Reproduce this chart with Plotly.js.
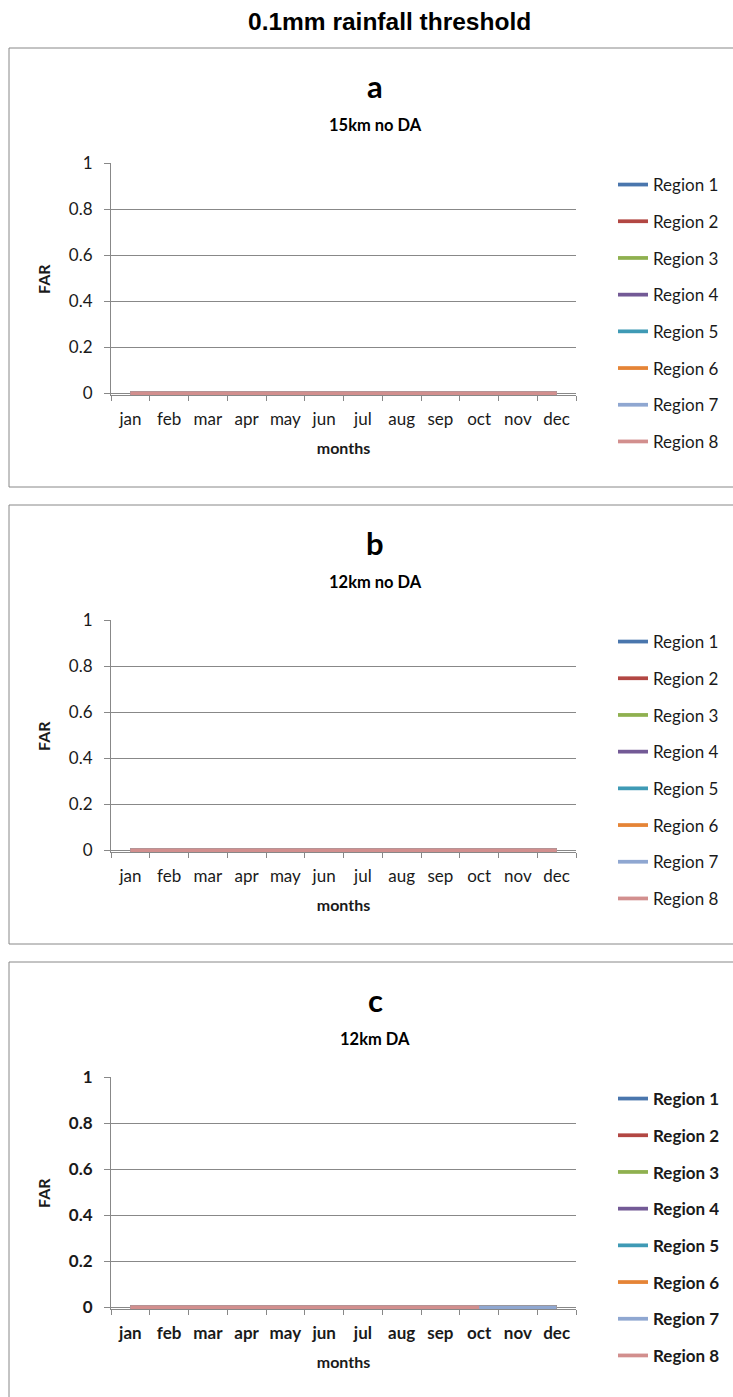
<!DOCTYPE html>
<html>
<head>
<meta charset="utf-8">
<script src="https://cdn.plot.ly/plotly-3.0.1.min.js"></script>
<style>
  html, body { margin: 0; padding: 0; background: #ffffff; }
  #chart { width: 733px; height: 1397px; }
</style>
</head>
<body>
<div id="chart"></div>
<script>
// Monthly false alarm ratio (FAR) per region, 0.1mm rainfall threshold
const months = ['jan', 'feb', 'mar', 'apr', 'may', 'jun', 'jul', 'aug', 'sep', 'oct', 'nov', 'dec'];
const regionNames = ['Region 1', 'Region 2', 'Region 3', 'Region 4', 'Region 5', 'Region 6', 'Region 7', 'Region 8'];
const panelLetters = ['a', 'b', 'c'];
const panelNames = ['15km no DA', '12km no DA', '12km DA'];
const yTicks = [0, 0.2, 0.4, 0.6, 0.8, 1];

// FAR, one row per region (Region 1 .. Region 8)
const far15kmNoDA = [
  [0, 0, 0, 0, 0, 0, 0, 0, 0, 0, 0, 0],
  [0, 0, 0, 0, 0, 0, 0, 0, 0, 0, 0, 0],
  [0, 0, 0, 0, 0, 0, 0, 0, 0, 0, 0, 0],
  [0, 0, 0, 0, 0, 0, 0, 0, 0, 0, 0, 0],
  [0, 0, 0, 0, 0, 0, 0, 0, 0, 0, 0, 0],
  [0, 0, 0, 0, 0, 0, 0, 0, 0, 0, 0, 0],
  [0, 0, 0, 0, 0, 0, 0, 0, 0, 0, 0, 0],
  [0, 0, 0, 0, 0, 0, 0, 0, 0, 0, 0, 0]
];
const far12kmNoDA = [
  [0, 0, 0, 0, 0, 0, 0, 0, 0, 0, 0, 0],
  [0, 0, 0, 0, 0, 0, 0, 0, 0, 0, 0, 0],
  [0, 0, 0, 0, 0, 0, 0, 0, 0, 0, 0, 0],
  [0, 0, 0, 0, 0, 0, 0, 0, 0, 0, 0, 0],
  [0, 0, 0, 0, 0, 0, 0, 0, 0, 0, 0, 0],
  [0, 0, 0, 0, 0, 0, 0, 0, 0, 0, 0, 0],
  [0, 0, 0, 0, 0, 0, 0, 0, 0, 0, 0, 0],
  [0, 0, 0, 0, 0, 0, 0, 0, 0, 0, 0, 0]
];
const far12kmDA = [
  [0, 0, 0, 0, 0, 0, 0, 0, 0, 0, 0, 0],
  [0, 0, 0, 0, 0, 0, 0, 0, 0, 0, 0, 0],
  [0, 0, 0, 0, 0, 0, 0, 0, 0, 0, 0, 0],
  [0, 0, 0, 0, 0, 0, 0, 0, 0, 0, 0, 0],
  [0, 0, 0, 0, 0, 0, 0, 0, 0, 0, 0, 0],
  [0, 0, 0, 0, 0, 0, 0, 0, 0, 0, 0, 0],
  [0, 0, 0, 0, 0, 0, 0, 0, 0, 0, 0, 0],
  [0, 0, 0, 0, 0, 0, 0, 0, 0, 0, null, null]
];
const panelData = [far15kmNoDA, far12kmNoDA, far12kmDA];

// ---- styling ----
const regionColors = ['#4A76AD', '#B24743', '#8FB04F', '#735A96', '#3F9AB5', '#E58436', '#8FA7D1', '#D28F8E'];
const W = 733, H = 1397;
const PANEL_STEP = 457;          // vertical distance between stacked panels (px)
const axisGray = '#888888';
const textColor = '#1a1a1a';
const FONT = 'Lato, "Open Sans", sans-serif';
const boldPanels = [false, false, true];
const Y_MIN = -0.0075;           // a hair below zero so the zero-valued lines are not cut in half

const px = v => v / W;           // horizontal pixel -> paper
const py = v => 1 - v / H;       // vertical pixel -> paper

const traces = [];
const layout = {
  width: W, height: H,
  margin: { l: 0, r: 0, t: 0, b: 0 },
  paper_bgcolor: '#ffffff', plot_bgcolor: '#ffffff',
  showlegend: true,
  font: { family: FONT, color: textColor },
  shapes: [], annotations: []
};

layout.annotations.push({
  text: '0.1mm rainfall threshold', xref: 'paper', yref: 'paper',
  x: px(389), y: py(21), xanchor: 'center', yanchor: 'middle', showarrow: false,
  font: { family: '"Liberation Sans", Arial, sans-serif', size: 24.5, weight: 'bold', color: '#000' }
});

panelData.forEach((rows, p) => {
  const off = p * PANEL_STEP;
  const sfx = p === 0 ? '' : String(p + 1);
  const bold = boldPanels[p] ? 'bold' : 'normal';
  const tickFont = { family: FONT, size: 17, color: textColor, weight: bold };
  const titleFont = { family: FONT, size: 16, color: textColor, weight: 'bold' };

  // y=1 at 163.3px and y=0 at 393.3px within the panel
  const pxPerUnit = 230;
  const plotTop = 163.3 + off;
  const plotBottom = 393.3 + off - Y_MIN * pxPerUnit;

  // panel frame
  layout.shapes.push({
    type: 'rect', xref: 'paper', yref: 'paper', layer: 'below',
    x0: px(9), x1: px(745), y0: py(48 + off), y1: py(487 + off + (p === 2 ? 20 : 0)),
    line: { color: axisGray, width: 1 }, fillcolor: 'rgba(0,0,0,0)'
  });

  // panel letter and run name
  layout.annotations.push({
    text: panelLetters[p], xref: 'paper', yref: 'paper',
    x: px(375), y: py(86 + off), xanchor: 'center', yanchor: 'middle', showarrow: false,
    font: { family: FONT, size: 31, weight: 'bold', color: '#000' }
  });
  layout.annotations.push({
    text: panelNames[p], xref: 'paper', yref: 'paper',
    x: px(375), y: py(125 + off), xanchor: 'center', yanchor: 'middle', showarrow: false,
    font: { family: FONT, size: 16.5, weight: 'bold', color: '#000' }
  });

  layout['xaxis' + sfx] = {
    domain: [px(111), px(576)], anchor: 'y' + sfx,
    type: 'category', categoryorder: 'array', categoryarray: months,
    range: [-0.5, 11.5], fixedrange: true,
    showline: true, linecolor: axisGray, linewidth: 1, layer: 'below traces',
    ticks: 'outside', tickson: 'boundaries', ticklen: 5, tickcolor: axisGray, tickwidth: 1,
    showgrid: false, zeroline: false, tickangle: 0,
    tickfont: tickFont, ticklabelstandoff: 9,
    title: { text: 'months', font: titleFont, standoff: 14 }
  };
  layout['yaxis' + sfx] = {
    domain: [py(plotBottom), py(plotTop)], anchor: 'x' + sfx,
    range: [Y_MIN, 1], tickvals: yTicks, ticktext: yTicks.map(String), fixedrange: true,
    showline: true, linecolor: axisGray, linewidth: 1, layer: 'below traces',
    ticks: 'outside', ticklen: 6, tickcolor: axisGray, tickwidth: 1,
    showgrid: true, gridcolor: axisGray, gridwidth: 1, zeroline: false,
    tickfont: tickFont, ticklabelstandoff: 8,
    title: { text: 'FAR', font: titleFont, standoff: 14 }
  };

  const legendKey = p === 0 ? 'legend' : 'legend' + (p + 1);
  layout[legendKey] = {
    x: px(613), xanchor: 'left', y: py(167 + off), yanchor: 'top',
    bgcolor: 'rgba(0,0,0,0)', borderwidth: 0,
    font: { family: FONT, size: 17, color: textColor, weight: bold },
    tracegroupgap: 11.6, itemwidth: 30, itemclick: false, itemdoubleclick: false
  };

  rows.forEach((vals, r) => {
    traces.push({
      type: 'scatter', mode: 'lines',
      x: months, y: vals,
      name: regionNames[r],
      xaxis: 'x' + sfx, yaxis: 'y' + sfx,
      legend: legendKey, legendgroup: 'p' + p + 'r' + r,
      line: { color: regionColors[r], width: 3.75 },
      cliponaxis: false, connectgaps: false,
      hoverinfo: 'skip'
    });
  });
});

Plotly.newPlot('chart', traces, layout, { staticPlot: true, displayModeBar: false });
</script>
</body>
</html>
